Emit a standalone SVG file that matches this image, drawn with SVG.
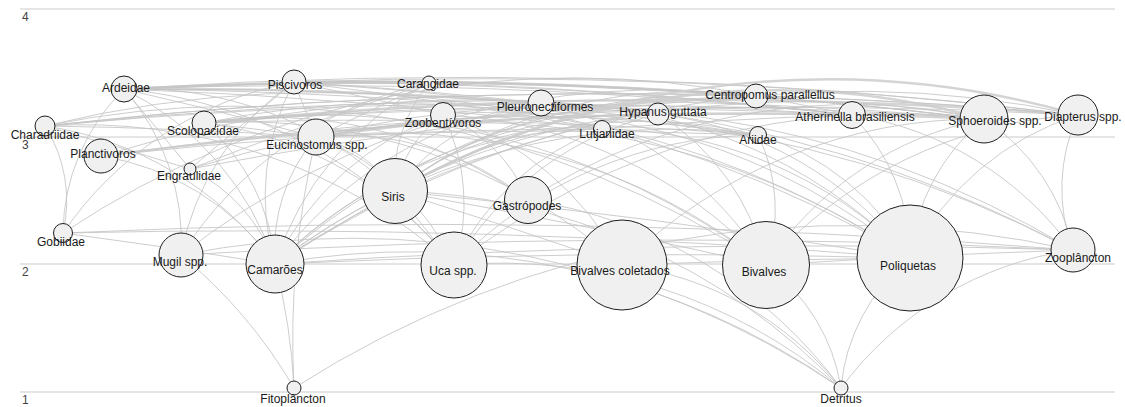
<svg xmlns="http://www.w3.org/2000/svg" width="1125" height="407" viewBox="0 0 1125 407">
<style>
.grid{stroke:#dcdcdc;stroke-width:1.5}
.ax{font:12px "Liberation Sans",Arial,sans-serif;fill:#444}
#edges path{fill:none;stroke:#c4c4c4;stroke-width:1;stroke-opacity:0.85}
#edges path.h{stroke-width:2.4;stroke:#cdcdcd}
.n circle{fill:#f0f0f0;stroke:#1e1e1e;stroke-width:1}
.n text{font:12px "Liberation Sans",Arial,sans-serif;fill:#1a1a1a;text-anchor:middle}
</style>
<rect width="1125" height="407" fill="#fff"/>
<g id="axis">
<line class="grid" x1="20" y1="9" x2="1115" y2="9"/>
<line class="grid" x1="20" y1="137" x2="1115" y2="137"/>
<line class="grid" x1="20" y1="264" x2="1115" y2="264"/>
<line class="grid" x1="20" y1="392" x2="1115" y2="392"/>
<text class="ax" x="22" y="21">4</text>
<text class="ax" x="22" y="149">3</text>
<text class="ax" x="22" y="276">2</text>
<text class="ax" x="22" y="404">1</text>
</g>
<g id="edges">
<path d="M124 89A5000 5000 0 0 1 316 137"/>
<path class="h" d="M124 89A5000 5000 0 0 1 429 83"/>
<path class="h" d="M124 89A5000 5000 0 0 1 541 103"/>
<path class="h" d="M124 89A5000 5000 0 0 1 756 96"/>
<path d="M124 89A5000 5000 0 0 1 852 115"/>
<path d="M124 89A5000 5000 0 0 1 984 119"/>
<path d="M124 89A5000 5000 0 0 1 1078 115"/>
<path d="M124 89A5000 5000 0 0 1 602 129"/>
<path d="M124 89A5000 5000 0 0 1 758 135"/>
<path d="M124 89A5000 5000 0 0 1 190 169"/>
<path d="M124 89A5000 5000 0 0 1 658 114"/>
<path d="M294 82A5000 5000 0 0 1 316 137"/>
<path class="h" d="M294 82A5000 5000 0 0 1 429 83"/>
<path d="M294 82A5000 5000 0 0 1 541 103"/>
<path class="h" d="M294 82A5000 5000 0 0 1 756 96"/>
<path d="M294 82A5000 5000 0 0 1 852 115"/>
<path d="M294 82A5000 5000 0 0 1 984 119"/>
<path d="M294 82A5000 5000 0 0 1 1078 115"/>
<path d="M294 82A5000 5000 0 0 1 602 129"/>
<path d="M294 82A5000 5000 0 0 1 758 135"/>
<path d="M190 169A5000 5000 0 0 1 294 82"/>
<path d="M294 82A5000 5000 0 0 1 443 115"/>
<path d="M45 126A5000 5000 0 0 1 316 137"/>
<path d="M45 126A5000 5000 0 0 1 852 115"/>
<path d="M45 126A5000 5000 0 0 1 984 119"/>
<path d="M45 126A5000 5000 0 0 1 1078 115"/>
<path d="M45 126A5000 5000 0 0 1 190 169"/>
<path d="M45 126A5000 5000 0 0 1 756 96"/>
<path d="M204 123A5000 5000 0 0 1 316 137"/>
<path d="M204 123A5000 5000 0 0 1 541 103"/>
<path d="M204 123A5000 5000 0 0 1 984 119"/>
<path class="h" d="M204 123A5000 5000 0 0 1 1078 115"/>
<path d="M204 123A5000 5000 0 0 1 852 115"/>
<path d="M204 123A5000 5000 0 0 1 758 135"/>
<path d="M190 169A5000 5000 0 0 1 756 96"/>
<path class="h" d="M316 137A5000 5000 0 0 1 756 96"/>
<path d="M756 96A5000 5000 0 0 1 1078 115"/>
<path d="M756 96A5000 5000 0 0 1 984 119"/>
<path d="M756 96A5000 5000 0 0 1 852 115"/>
<path d="M190 169A5000 5000 0 0 1 429 83"/>
<path d="M316 137A5000 5000 0 0 1 429 83"/>
<path d="M429 83A5000 5000 0 0 1 852 115"/>
<path d="M316 137A5000 5000 0 0 1 602 129"/>
<path d="M602 129A5000 5000 0 0 1 852 115"/>
<path d="M316 137A5000 5000 0 0 1 758 135"/>
<path d="M101 156A5000 5000 0 0 1 852 115"/>
<path d="M101 156A5000 5000 0 0 1 316 137"/>
<path d="M101 156A5000 5000 0 0 1 1078 115"/>
<path class="h" d="M101 156A5000 5000 0 0 1 984 119"/>
<path d="M124 89A230 230 0 0 1 181 255"/>
<path d="M63 233A205 205 0 0 1 124 89"/>
<path d="M124 89A300 300 0 0 1 275 264"/>
<path d="M124 89A375 375 0 0 1 395 191"/>
<path d="M124 89A485 485 0 0 1 454 265"/>
<path d="M63 233A360 360 0 0 1 294 82"/>
<path d="M181 255A270 270 0 0 1 294 82"/>
<path d="M275 264A240 240 0 0 1 294 82"/>
<path d="M45 126A1140 1140 0 0 1 910 258"/>
<path d="M45 126A955 955 0 0 1 766 265"/>
<path d="M45 126A560 560 0 0 1 454 265"/>
<path d="M45 126A350 350 0 0 1 275 264"/>
<path d="M45 126A140 140 0 0 1 63 233"/>
<path d="M204 123A935 935 0 0 1 910 258"/>
<path d="M204 123A750 750 0 0 1 766 265"/>
<path d="M204 123A575 575 0 0 1 622 265"/>
<path d="M204 123A375 375 0 0 1 454 265"/>
<path d="M204 123A205 205 0 0 1 275 264"/>
<path d="M204 123A435 435 0 0 1 528 200"/>
<path d="M101 156A1270 1270 0 0 1 1073 250"/>
<path d="M101 156A265 265 0 0 1 275 264"/>
<path d="M316 137A790 790 0 0 1 910 258"/>
<path d="M316 137A610 610 0 0 1 766 265"/>
<path d="M275 264A175 175 0 0 1 316 137"/>
<path d="M316 137A125 125 0 0 1 395 191"/>
<path d="M316 137A995 995 0 0 1 1073 250"/>
<path d="M316 137A290 290 0 0 1 528 200"/>
<path d="M316 137A245 245 0 0 1 454 265"/>
<path d="M190 169A1150 1150 0 0 1 1073 250"/>
<path d="M190 169A165 165 0 0 1 275 264"/>
<path d="M275 264A310 310 0 0 1 429 83"/>
<path d="M395 191A150 150 0 0 1 429 83"/>
<path d="M181 255A390 390 0 0 1 429 83"/>
<path d="M443 115A635 635 0 0 1 910 258"/>
<path d="M443 115A465 465 0 0 1 766 265"/>
<path d="M443 115A305 305 0 0 1 622 265"/>
<path d="M275 264A290 290 0 0 1 443 115"/>
<path d="M395 191A117 117 0 0 1 443 115"/>
<path d="M443 115A156 156 0 0 1 528 200"/>
<path d="M443 115A195 195 0 0 1 454 265"/>
<path d="M541 103A520 520 0 0 1 910 258"/>
<path d="M541 103A360 360 0 0 1 766 265"/>
<path d="M275 264A405 405 0 0 1 541 103"/>
<path d="M395 191A220 220 0 0 1 541 103"/>
<path d="M658 114A377 377 0 0 1 910 258"/>
<path d="M658 114A240 240 0 0 1 766 265"/>
<path d="M275 264A535 535 0 0 1 658 114"/>
<path d="M395 191A356 356 0 0 1 658 114"/>
<path d="M454 265A330 330 0 0 1 658 114"/>
<path d="M275 264A460 460 0 0 1 602 129"/>
<path d="M395 191A280 280 0 0 1 602 129"/>
<path d="M454 265A260 260 0 0 1 602 129"/>
<path d="M602 129A435 435 0 0 1 910 258"/>
<path d="M181 255A775 775 0 0 1 756 96"/>
<path d="M275 264A660 660 0 0 1 756 96"/>
<path d="M395 191A485 485 0 0 1 756 96"/>
<path d="M63 233A920 920 0 0 1 756 96"/>
<path d="M758 135A255 255 0 0 1 910 258"/>
<path d="M758 135A170 170 0 0 1 766 265"/>
<path d="M275 264A650 650 0 0 1 758 135"/>
<path d="M395 191A480 480 0 0 1 758 135"/>
<path d="M454 265A430 430 0 0 1 758 135"/>
<path d="M852 115A335 335 0 0 1 1073 250"/>
<path d="M275 264A775 775 0 0 1 852 115"/>
<path d="M852 115A200 200 0 0 1 910 258"/>
<path d="M766 265A340 340 0 0 1 984 119"/>
<path d="M622 265A510 510 0 0 1 984 119"/>
<path class="h" d="M395 191A770 770 0 0 1 984 119"/>
<path d="M454 265A715 715 0 0 1 984 119"/>
<path d="M528 200A600 600 0 0 1 984 119"/>
<path d="M910 258A205 205 0 0 1 984 119"/>
<path d="M275 264A940 940 0 0 1 984 119"/>
<path d="M984 119A205 205 0 0 1 1073 250"/>
<path d="M910 258A285 285 0 0 1 1078 115"/>
<path d="M766 265A450 450 0 0 1 1078 115"/>
<path d="M275 264A1060 1060 0 0 1 1078 115"/>
<path d="M1073 250A175 175 0 0 1 1078 115"/>
<path class="h" d="M395 191A895 895 0 0 1 1078 115"/>
<path d="M63 233A8000 8000 0 0 1 275 264"/>
<path d="M63 233A8000 8000 0 0 1 910 258"/>
<path d="M63 233A8000 8000 0 0 1 1073 250"/>
<path d="M395 191A8000 8000 0 0 1 766 265"/>
<path d="M395 191A8000 8000 0 0 1 910 258"/>
<path d="M275 264A8000 8000 0 0 1 395 191"/>
<path d="M395 191A8000 8000 0 0 1 622 265"/>
<path d="M395 191A8000 8000 0 0 1 454 265"/>
<path d="M275 264A8000 8000 0 0 1 1073 250"/>
<path d="M275 264A8000 8000 0 0 1 910 258"/>
<path d="M181 255A8000 8000 0 0 1 1073 250"/>
<path d="M766 265A8000 8000 0 0 1 1073 250"/>
<path d="M622 265A8000 8000 0 0 1 910 258"/>
<path d="M275 264A600 600 0 0 1 294 388"/>
<path d="M181 255A500 500 0 0 1 294 388"/>
<path d="M294 388A1030 1030 0 0 1 1073 250"/>
<path d="M294 388A900 900 0 0 1 316 137"/>
<path d="M454 265A530 530 0 0 1 841 388"/>
<path d="M622 265A330 330 0 0 1 841 388"/>
<path d="M766 265A190 190 0 0 1 841 388"/>
<path d="M841 388A190 190 0 0 1 910 258"/>
<path d="M275 264A750 750 0 0 1 841 388"/>
<path d="M181 255A875 875 0 0 1 841 388"/>
<path d="M395 191A635 635 0 0 1 841 388"/>
<path d="M528 200A475 475 0 0 1 841 388"/>
<path d="M841 388A350 350 0 0 1 1073 250"/>
</g>
<g id="n-ardeidae" class="n"><circle cx="124" cy="89" r="13"/><text x="126" y="92">Ardeidae</text></g>
<g id="n-piscivoros" class="n"><circle cx="294" cy="82" r="12"/><text x="295" y="89">Piscivoros</text></g>
<g id="n-charadriidae" class="n"><circle cx="45" cy="126" r="10"/><text x="45" y="139">Charadriidae</text></g>
<g id="n-scolopacidae" class="n"><circle cx="204" cy="123" r="12"/><text x="203" y="135">Scolopacidae</text></g>
<g id="n-planctivoros" class="n"><circle cx="101" cy="156" r="17"/><text x="103" y="158">Planctivoros</text></g>
<g id="n-eucinostomus" class="n"><circle cx="316" cy="137" r="18"/><text x="317" y="149">Eucinostomus spp.</text></g>
<g id="n-engraulidae" class="n"><circle cx="190" cy="169" r="6"/><text x="189" y="180">Engraulidae</text></g>
<g id="n-carangidae" class="n"><circle cx="429" cy="83" r="7"/><text x="428" y="88">Carangidae</text></g>
<g id="n-zoobentivoros" class="n"><circle cx="443" cy="115" r="12.5"/><text x="443" y="127">Zoobentívoros</text></g>
<g id="n-pleuronectiformes" class="n"><circle cx="541" cy="103" r="13"/><text x="545" y="111">Pleuronectiformes</text></g>
<g id="n-hypanus" class="n"><circle cx="658" cy="114" r="11"/><text x="663" y="116">Hypanus guttata</text></g>
<g id="n-lutjanidae" class="n"><circle cx="602" cy="129" r="8.5"/><text x="607" y="138">Lutjanidae</text></g>
<g id="n-centropomus" class="n"><circle cx="756" cy="96" r="12"/><text x="770" y="99">Centropomus parallellus</text></g>
<g id="n-ariidae" class="n"><circle cx="758" cy="135" r="8.5"/><text x="758" y="144">Ariidae</text></g>
<g id="n-atherinella" class="n"><circle cx="852" cy="115" r="13.5"/><text x="855" y="121">Atherinella brasiliensis</text></g>
<g id="n-sphoeroides" class="n"><circle cx="984" cy="119" r="24"/><text x="995" y="125">Sphoeroides spp.</text></g>
<g id="n-diapterus" class="n"><circle cx="1078" cy="115" r="20"/><text x="1083" y="121">Diapterus spp.</text></g>
<g id="n-siris" class="n"><circle cx="395" cy="191" r="32.5"/><text x="393" y="201">Siris</text></g>
<g id="n-gastropodes" class="n"><circle cx="528" cy="200" r="23.5"/><text x="527" y="210">Gastrópodes</text></g>
<g id="n-gobiidae" class="n"><circle cx="63" cy="233" r="9.5"/><text x="61" y="246">Gobiidae</text></g>
<g id="n-mugil" class="n"><circle cx="181" cy="255" r="22"/><text x="180" y="266">Mugil spp.</text></g>
<g id="n-camaroes" class="n"><circle cx="275" cy="264" r="29"/><text x="275" y="274">Camarões</text></g>
<g id="n-uca" class="n"><circle cx="454" cy="265" r="33"/><text x="453" y="275">Uca spp.</text></g>
<g id="n-bivalves-coletados" class="n"><circle cx="622" cy="265" r="45"/><text x="620" y="275">Bivalves coletados</text></g>
<g id="n-bivalves" class="n"><circle cx="766" cy="265" r="43.5"/><text x="764" y="276">Bivalves</text></g>
<g id="n-poliquetas" class="n"><circle cx="910" cy="258" r="53"/><text x="908" y="270">Poliquetas</text></g>
<g id="n-zooplancton" class="n"><circle cx="1073" cy="250" r="22"/><text x="1078" y="262">Zooplâncton</text></g>
<g id="n-fitoplancton" class="n"><circle cx="294" cy="388" r="7"/><text x="293" y="403">Fitoplâncton</text></g>
<g id="n-detritus" class="n"><circle cx="841" cy="388" r="7"/><text x="841" y="403">Detritus</text></g>
</svg>
